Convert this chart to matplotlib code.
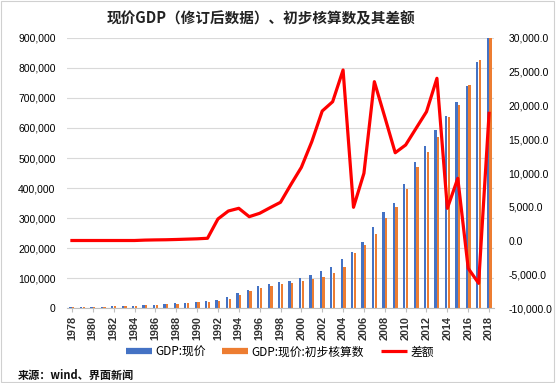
import matplotlib
matplotlib.use("Agg")
import matplotlib.pyplot as plt
from matplotlib.ticker import FuncFormatter, FixedLocator
from matplotlib.lines import Line2D
from matplotlib.patches import Rectangle
import numpy as np

plt.rcParams['font.family'] = ['Liberation Sans', 'Noto Sans CJK SC', 'DejaVu Sans']

years = list(range(1978, 2019))
gdp_revised = [3679, 4101, 4588, 4936, 5373, 6021, 7279, 9099, 10376, 12175,
               15180, 17180, 18873, 22006, 27195, 35673, 48638, 61340, 71814, 79715,
               85196, 90564, 100280, 110863, 121717, 137422, 161840, 187319, 219439, 270092,
               319245, 348518, 412119, 487940, 538580, 592963, 641280, 685993, 740061, 820754,
               919281]
gdp_prelim = [3624, 4038, 4518, 4862, 5295, 5934, 7171, 8964, 10202, 11954,
              14928, 16909, 18548, 21618, 23938, 31380, 43800, 57733, 67795, 74772,
              79553, 82054, 89404, 95933, 102398, 116694, 136515, 182321, 209407, 246619,
              300670, 335353, 397983, 471564, 519322, 568845, 636463, 676708, 744127, 827122,
              900309]
diff = [0, 0, 0, 0, 0, 0, 0, 60, 90, 110,
        150, 200, 250, 330, 3190, 4370, 4770, 3530, 4030, 4860,
        5660, 8300, 10840, 14640, 19180, 20560, 25260, 4920, 9960, 23530,
        18300, 13000, 14150, 16620, 19080, 24030, 4770, 9210, -4120, -6340,
        18840]

left_ticks = list(range(0, 900001, 100000))
right_ticks = list(range(-10000, 30001, 5000))
xtick_years = list(range(1978, 2019, 2))

title = "现价GDP（修订后数据）、初步核算数及其差额"
labels = ["GDP:现价", "GDP:现价:初步核算数", "差额"]
source = "来源：wind、界面新闻"

blue = "#4472C4"
orange = "#ED7D31"
red = "#FF0000"

fig = plt.figure(figsize=(5.56, 3.83), dpi=100)
fig.patch.set_facecolor("white")
fig.patches.append(Rectangle((0.002, 0.003), 0.995, 0.994, transform=fig.transFigure,
                             fill=False, edgecolor="#D0D0D0", linewidth=0.8))

ax = fig.add_axes([0.120, 0.1958, 0.889 - 0.120, 0.9008 - 0.1958])
x = np.arange(len(years))
w = 0.22
ax.bar(x - 0.13, gdp_revised, width=w, color=blue, zorder=2)
ax.bar(x + 0.13, gdp_prelim, width=w, color=orange, zorder=2)
ax.set_xlim(-0.5, len(years) - 0.5)
ax.set_ylim(0, 900000)
ax.yaxis.set_major_locator(FixedLocator(left_ticks))
ax.yaxis.set_major_formatter(FuncFormatter(lambda v, p: f"{int(v):,}"))
ax.grid(axis="y", color="#D9D9D9", linewidth=0.8, zorder=0)
ax.set_axisbelow(True)
for s in ["top", "left", "right"]:
    ax.spines[s].set_visible(False)
ax.spines["bottom"].set_color("#BFBFBF")
ax.spines["bottom"].set_linewidth(0.8)
ax.set_xticks([years.index(y) for y in xtick_years])
ax.set_xticklabels([str(y) for y in xtick_years], rotation=90, fontsize=7.8,
                   fontweight="bold", color="#333333")
ax.tick_params(axis="x", length=3, color="#BFBFBF", pad=3)
ax.tick_params(axis="y", length=0, labelsize=7.5, pad=8)

ax2 = ax.twinx()
ax2.plot(x, diff, color=red, linewidth=2.3, solid_joinstyle="round", zorder=3)
ax2.set_ylim(-10000, 30000)
ax2.yaxis.set_major_locator(FixedLocator(right_ticks))
ax2.yaxis.set_major_formatter(FuncFormatter(lambda v, p: f"{v:,.1f}"))
ax2.tick_params(axis="y", length=0, labelsize=7.5, pad=10)
for s in ["top", "left", "right", "bottom"]:
    ax2.spines[s].set_visible(False)

fig.text(0.47, 0.953, title, ha="center", va="center", fontsize=10.5,
         fontweight="bold", family=["Noto Sans CJK SC", "DejaVu Sans"], color="#222222")

handles = [Line2D([], [], color=blue, linewidth=4.5, solid_capstyle="butt"),
           Line2D([], [], color=orange, linewidth=4.5, solid_capstyle="butt"),
           Line2D([], [], color=red, linewidth=2.3, solid_capstyle="butt")]
leg = fig.legend(handles, labels, loc="center", bbox_to_anchor=(0.503, 0.081), ncol=3,
                 frameon=False, handlelength=2.2, handletextpad=0.3, columnspacing=1.4,
                 prop={"family": ["Noto Sans CJK SC", "DejaVu Sans"], "size": 8.5})

fig.text(0.032, 0.02, source, ha="left", va="center", fontsize=8, fontweight="bold",
         family=["Noto Sans CJK SC", "DejaVu Sans"], color="#111111")

fig.savefig("out.png", dpi=100, facecolor="white")
